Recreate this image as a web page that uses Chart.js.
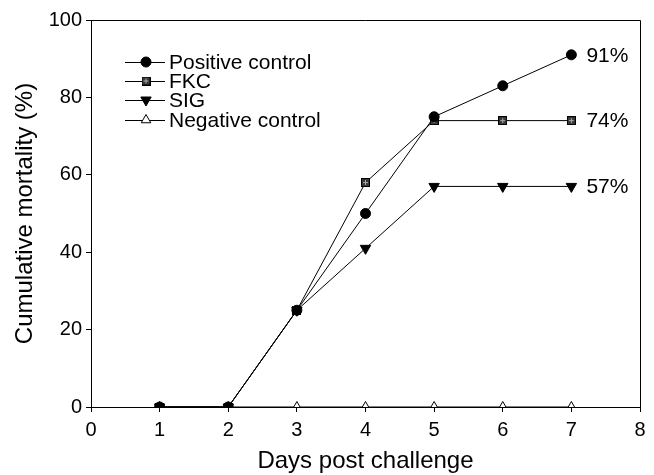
<!DOCTYPE html>
<html>
<head>
<meta charset="utf-8">
<script src="https://cdn.jsdelivr.net/npm/chart.js@4.4.1/dist/chart.umd.min.js"></script>
<style>
  html, body { margin: 0; padding: 0; background: #fff; }
  #wrap { width: 654px; height: 475px; }
</style>
</head>
<body>
<div id="wrap"><canvas id="chart" width="654" height="475"></canvas></div>
<script>
var days = [1, 2, 3, 4, 5, 6, 7];
var positiveControl = [0, 0, 25, 50, 75, 83, 91];
var fkc = [0, 0, 25, 58, 74, 74, 74];
var sig = [0, 0, 25, 41, 57, 57, 57];
var negativeControl = [0, 0, 0, 0, 0, 0, 0];
var xTicks = [0, 1, 2, 3, 4, 5, 6, 7, 8];
var yTicks = [0, 20, 40, 60, 80, 100];

var FONT = '"Liberation Sans", Arial, sans-serif';

function points(values) {
    return values.map(function (v, i) { return { x: days[i], y: v }; });
}

// hatched square marker used for FKC
function hatchSquare() {
    var c = document.createElement('canvas');
    c.width = 9; c.height = 9;
    var g = c.getContext('2d');
    g.fillStyle = '#000';
    g.fillRect(0, 0, 9, 9);
    g.fillStyle = '#3a3a3a';
    g.fillRect(1, 1, 7, 7);
    g.fillStyle = '#aaa';
    g.fillRect(4, 2, 1, 5);
    g.fillRect(2, 4, 5, 1);
    return c;
}
var squareImg = hatchSquare();

function series(label, values, style, radius, fill, rotation) {
    return {
        label: label,
        data: points(values),
        borderColor: '#000',
        borderWidth: 1,
        pointStyle: style,
        pointRadius: radius,
        pointHoverRadius: radius,
        pointBackgroundColor: fill,
        pointBorderColor: '#000',
        pointBorderWidth: 1,
        pointRotation: rotation || 0,
        tension: 0
    };
}

var datasets = [
    series('Positive control', positiveControl, 'circle', 5, '#000'),
    series('FKC', fkc, squareImg, 5, '#333'),
    series('SIG', sig, 'triangle', 6, '#000', 180),
    series('Negative control', negativeControl, 'triangle', 5.5, '#fff')
];

// frame on top and right
var framePlugin = {
    id: 'frame',
    beforeDatasetsDraw: function (chart) {
        var a = chart.chartArea, ctx = chart.ctx;
        ctx.save();
        ctx.strokeStyle = '#000';
        ctx.lineWidth = 1;
        ctx.beginPath();
        ctx.moveTo(a.left, a.top + 0.5);
        ctx.lineTo(a.right + 0.5, a.top + 0.5);
        ctx.lineTo(a.right + 0.5, a.bottom);
        ctx.stroke();
        ctx.restore();
    }
};

// legend drawn inside the plot, line + marker samples
var legendPlugin = {
    id: 'innerLegend',
    afterDatasetsDraw: function (chart) {
        var ctx = chart.ctx;
        var x0 = 125, x1 = 165, xm = 146, xt = 169;
        var rows = [62, 81, 100, 120];
        ctx.save();
        chart.data.datasets.forEach(function (ds, i) {
            var y = rows[i];
            ctx.strokeStyle = '#000';
            ctx.lineWidth = 1;
            ctx.beginPath();
            ctx.moveTo(x0, y + 0.5);
            ctx.lineTo(x1, y + 0.5);
            ctx.stroke();
            ctx.fillStyle = ds.pointBackgroundColor;
            ctx.strokeStyle = '#000';
            Chart.helpers.drawPoint(ctx, {
                pointStyle: ds.pointStyle,
                radius: ds.pointRadius,
                rotation: ds.pointRotation,
                borderWidth: 1
            }, xm, y);
            ctx.fillStyle = '#000';
            ctx.font = '21px ' + FONT;
            ctx.textBaseline = 'middle';
            ctx.textAlign = 'left';
            ctx.fillText(ds.label, xt, y + 1);
        });
        ctx.restore();
    }
};

// final-day percentages to the right of the last points
var endLabelPlugin = {
    id: 'endLabels',
    afterDatasetsDraw: function (chart) {
        var ctx = chart.ctx;
        ctx.save();
        ctx.fillStyle = '#000';
        ctx.font = '21px ' + FONT;
        ctx.textBaseline = 'middle';
        ctx.textAlign = 'left';
        chart.data.datasets.slice(0, 3).forEach(function (ds, i) {
            var meta = chart.getDatasetMeta(i);
            var last = meta.data[meta.data.length - 1];
            var v = ds.data[ds.data.length - 1].y;
            ctx.fillText(v + '%', last.x + 15, last.y + 1);
        });
        ctx.restore();
    }
};

var config = {
    type: 'line',
    data: { datasets: datasets },
    options: {
        responsive: false,
        animation: false,
        events: [],
        layout: { padding: { top: 20, right: 14, left: 0, bottom: 0 } },
        plugins: { legend: { display: false }, tooltip: { enabled: false } },
        scales: {
            x: {
                type: 'linear',
                min: 0, max: 8,
                afterBuildTicks: function (s) { s.ticks = xTicks.map(function (v) { return { value: v }; }); },
                afterFit: function (s) { s.height = 68; },
                grid: { drawOnChartArea: false, tickLength: 5, color: '#000', tickColor: '#000' },
                border: { color: '#000', width: 1 },
                ticks: { color: '#000', padding: 6, font: { family: FONT, size: 20 }, maxRotation: 0 },
                title: { display: true, text: 'Days post challenge', color: '#000',
                         font: { family: FONT, size: 24, lineHeight: 1.1 }, padding: { top: 0, bottom: 0 } }
            },
            y: {
                min: 0, max: 100,
                afterBuildTicks: function (s) { s.ticks = yTicks.map(function (v) { return { value: v }; }); },
                afterFit: function (s) { s.width = 91; },
                grid: { drawOnChartArea: false, tickLength: 5, color: '#000', tickColor: '#000' },
                border: { color: '#000', width: 1 },
                ticks: { color: '#000', padding: 4, font: { family: FONT, size: 20 } },
                title: { display: true, text: 'Cumulative mortality (%)', color: '#000',
                         font: { family: FONT, size: 24, lineHeight: 1.2 }, padding: { top: 11, bottom: 0 } }
            }
        }
    },
    plugins: [framePlugin, legendPlugin, endLabelPlugin]
};

window.onload = function () {
    var ctx = document.getElementById('chart').getContext('2d');
    window.myChart = new Chart(ctx, config);
};
</script>
</body>
</html>
